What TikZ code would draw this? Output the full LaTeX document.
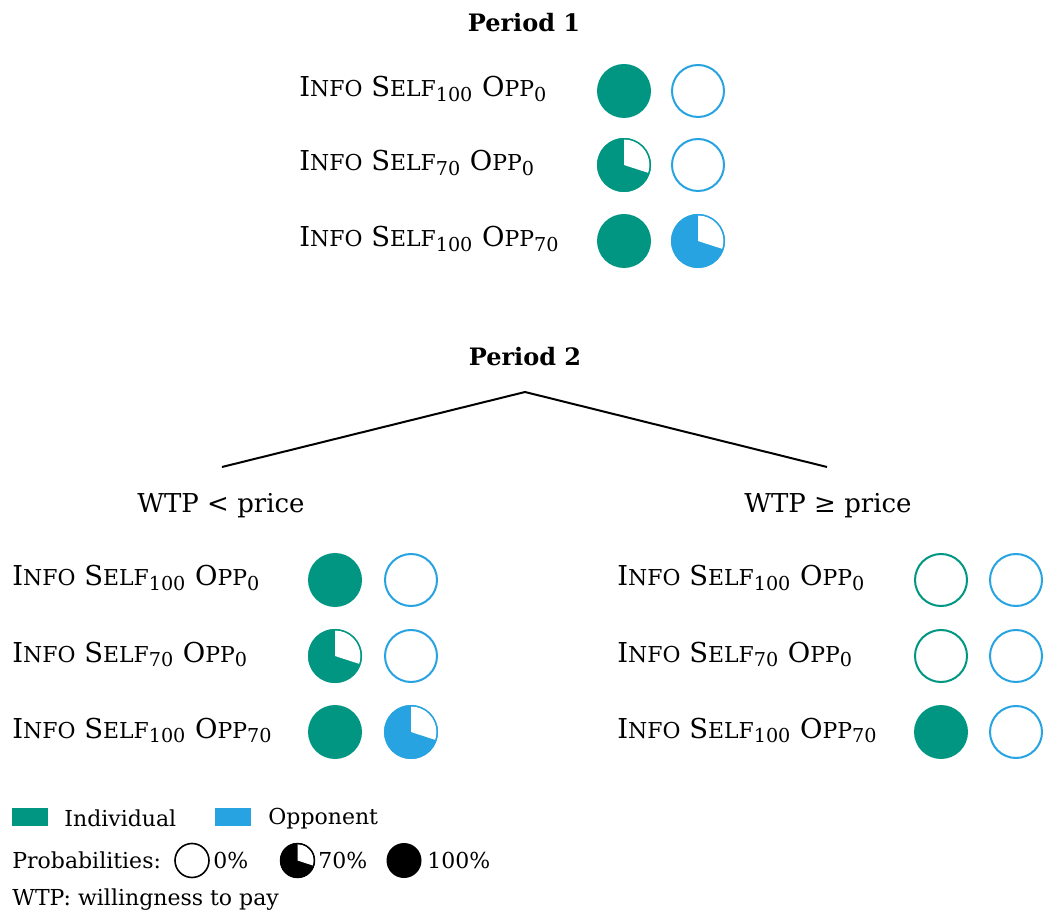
\documentclass[tikz,border=0pt]{standalone}
\usepackage{fontspec}
\setmainfont{DejaVu Serif}
\newfontfamily\scfont[Scale=0.8]{DejaVu Serif}
\usepackage{xcolor}
\definecolor{indiv}{RGB}{0,150,130}
\definecolor{oppo}{RGB}{38,163,224}
\newcommand{\fsc}[2]{#1{\scfont #2}}
\newcommand{\infolab}[2]{\fsc{I}{NFO} \fsc{S}{ELF}\textsubscript{#1} \fsc{O}{PP}\textsubscript{#2}}

\begin{document}
\begin{tikzpicture}[x=0.5pt,y=0.5pt,font=\fontsize{13.7}{16}\selectfont]
\useasboundingbox (0,0) rectangle (1044,922);
%===DEF. COMPONENTS====
\def\disc(#1,#2,#3,#4){
 \begin{scope}[shift={(#1,#2)}]
 \ifnum#4=100
 \fill[#3] (0,0) circle[radius=27];
 \else\ifnum#4=70
 \fill[#3] (0,0) circle[radius=27];
 \fill[white] (0,0) -- (90:25.5) arc[start angle=90,end angle=-18,radius=25.5] -- cycle;
 \draw[#3,line width=0.6pt] (0,0) circle[radius=26.4];
 \else
 \draw[#3,line width=1pt] (0,0) circle[radius=26];
 \fi\fi
 \end{scope}
}
\def\keydisc(#1,#2,#3){
 \begin{scope}[shift={(#1,#2)}]
 \ifnum#3=100
 \fill (0,0) circle[radius=17.5];
 \else\ifnum#3=70
 \fill (0,0) circle[radius=17.5];
 \fill[white] (0,0) -- (90:16.3) arc[start angle=90,end angle=-18,radius=16.3] -- cycle;
 \draw[line width=0.7pt] (0,0) circle[radius=17];
 \else
 \draw[line width=0.8pt] (0,0) circle[radius=17];
 \fi\fi
 \end{scope}
}
%===styles===
\tikzset{lab/.style={anchor=base west,inner sep=0pt},
 head/.style={anchor=base,inner sep=0pt,font=\fontsize{12}{14}\selectfont\bfseries},
 branch/.style={anchor=base,inner sep=0pt,font=\fontsize{13}{15}\selectfont},
 key/.style={anchor=base west,inner sep=0pt,font=\fontsize{11}{13}\selectfont}}
%===period 1===
\node[head] (p1) at (524,890) {Period 1};
\node[lab] (a1) at (299,825) {\infolab{100}{0}};
\node[lab] (a2) at (299,751) {\infolab{70}{0}};
\node[lab] (a3) at (299,675) {\infolab{100}{70}};
\disc(624,831,indiv,100) \disc(698,831,oppo,0)
\disc(624,757,indiv,70) \disc(698,757,oppo,0)
\disc(624,681,indiv,100) \disc(698,681,oppo,70)
%===period 2===
\node[head] (p2) at (525,556) {Period 2};
\coordinate (root) at (525,530);
\coordinate (lbr) at (222,455);
\coordinate (rbr) at (827,455);
\draw[line width=1pt] (lbr) -- (root) -- (rbr);
\node[branch] (wlow) at (221,409) {WTP < price};
\node[branch] (whigh) at (828,409) {WTP ≥ price};
%===left branch===
\node[lab] (b1) at (12,336) {\infolab{100}{0}};
\node[lab] (b2) at (12,260) {\infolab{70}{0}};
\node[lab] (b3) at (12,184) {\infolab{100}{70}};
\disc(335,342,indiv,100) \disc(411,342,oppo,0)
\disc(335,266,indiv,70) \disc(411,266,oppo,0)
\disc(335,190,indiv,100) \disc(411,190,oppo,70)
%===right branch===
\node[lab] (c1) at (617,336) {\infolab{100}{0}};
\node[lab] (c2) at (617,260) {\infolab{70}{0}};
\node[lab] (c3) at (617,184) {\infolab{100}{70}};
\disc(941,342,indiv,0) \disc(1016,342,oppo,0)
\disc(941,266,indiv,0) \disc(1016,266,oppo,0)
\disc(941,190,indiv,100) \disc(1016,190,oppo,0)
%===legend===
\fill[indiv] (12,96) rectangle (48,114);
\node[key] (kind) at (64,96) {Individual};
\fill[oppo] (215,96) rectangle (251,114);
\node[key] (kopp) at (268,98) {Opponent};
\node[key] (kprob) at (12,54) {Probabilities:};
\keydisc(192,61.5,0) \node[key] (k0) at (213,54) {0\%};
\keydisc(297.5,61.5,70) \node[key] (k70) at (318,54) {70\%};
\keydisc(404,61.5,100) \node[key] (k100) at (427,54) {100\%};
\node[key] (kwtp) at (12,17) {WTP: willingness to pay};
\end{tikzpicture}
\end{document}
